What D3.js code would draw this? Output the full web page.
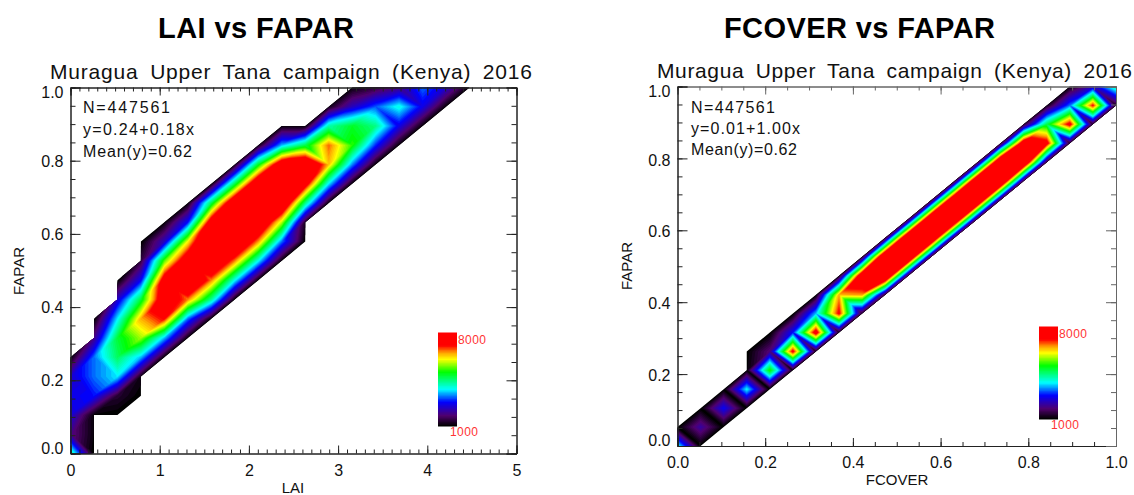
<!DOCTYPE html>
<meta charset="utf-8">
<style>
body { margin: 0; background: white; }
text { font-family: "Liberation Sans", Arial, sans-serif; fill: #111; }
.domain { stroke: #222; }
.tick line { stroke: #222; }
</style>
<body>
<script src="https://d3js.org/d3.v7.min.js"></script>
<script>

// 20 x 20 density grid, one list per column, each list starts at row xxStart[column]
var laiStart = [0, 0, 2, 3, 5, 6, 7, 8, 9, 10, 11, 13, 14, 15, 16, 17, 18, 19];
var laiCounts = [
  [4500, 2000, 2600, 2700, 2500, 1100],
  [1000, 1100, 1100, 2900, 3300, 3300, 2000, 1000],
  [1000, 1400, 3800, 4700, 4900, 3800, 2500, 1000],
  [1000, 1200, 3600, 5800, 6600, 4900, 2800, 1500, 1000],
  [1100, 3600, 7300, 8200, 7900, 5500, 2400, 1100],
  [1100, 3300, 6800, 9000, 8200, 6200, 2900, 1100],
  [1100, 4400, 6800, 8800, 9500, 8000, 4800, 1100],
  [1100, 3900, 6800, 9000, 9500, 8600, 4800, 1200],
  [1100, 3900, 6700, 8800, 9500, 8600, 5000, 1200],
  [1100, 3300, 5900, 8800, 9800, 8300, 3600, 1100],
  [1000, 1300, 4500, 7800, 8800, 4800, 1100],
  [1100, 3800, 6500, 6900, 4300, 1200],
  [1100, 3400, 5300, 5000, 2400, 1100],
  [1100, 3000, 4500, 3200, 1500],
  [1100, 2700, 4000, 2000],
  [1100, 2700, 3300],
  [1100, 2500],
  [1100]
];
var laiEmptyCells = ["1,1"];

var fcoverStart = [0, 0, 1, 2, 3, 4, 5, 6, 7, 8, 9, 10, 11, 12, 13, 14, 15, 16, 17, 18];
var fcoverCounts = [
  [4000, 1000],
  [1000, 2200, 1000],
  [1000, 2800, 1000],
  [1000, 3900, 1100, 1000],
  [1000, 5300, 1900, 1000],
  [1100, 7500, 2900, 1000],
  [1200, 7800, 3600, 1000],
  [1200, 7400, 6600, 1100],
  [1300, 6700, 8500, 1200],
  [1400, 9400, 9400, 1300],
  [1400, 9400, 9400, 1300],
  [1400, 9400, 9400, 1300],
  [1400, 9400, 9400, 1300],
  [1400, 9400, 9400, 1300],
  [1400, 9400, 9400, 1300],
  [1400, 9000, 8300, 1300],
  [1400, 7700, 4800, 1200],
  [1300, 7600, 3300, 1100],
  [1300, 7300, 2400],
  [1300, 4400]
];

var colorCounts = [1000, 1770, 2820, 3800, 5130, 6110, 6600, 7160, 8000];
var colorValues = ["#000000", "#50006e", "#0000ff", "#00ffff", "#00ff00", "#ffff00", "#ffa500", "#ff0000", "#ff0000"];

var subtitle = "Muragua Upper Tana campaign (Kenya) 2016";
var fapar = { major: [0, 0.2, 0.4, 0.6, 0.8, 1], minor: d3.range(0, 1.001, 0.05) };
var laiTicks = { major: [0, 1, 2, 3, 4, 5], minor: d3.range(0, 5.01, 0.1) };
var fcoverTicks = { major: [0, 0.2, 0.4, 0.6, 0.8, 1], minor: d3.range(0, 1.001, 0.05) };

var color = d3.scaleLinear().domain(colorCounts).range(colorValues).clamp(true);
var levels = d3.range(64).map(function(k) { return 1000 + 7000 * k / 63; });

var svg = d3.select("body").append("svg")
    .attr("width", 1134)
    .attr("height", 495);

// keep the part of a triangle that is at or above the level
function clipTriangle(tri, level) {
  var out = [];
  tri.forEach(function(a, n) {
    var b = tri[(n + 1) % 3];
    if (a.v >= level) out.push(a);
    if ((a.v >= level) != (b.v >= level)) {
      var f = (level - a.v) / (b.v - a.v);
      out.push({ i: a.i + f * (b.i - a.i), j: a.j + f * (b.j - a.j), v: level });
    }
  });
  return out;
}

// split the cells into triangles. two peaks on one diagonal stay apart,
// otherwise cut along the diagonal whose ends are closest in value
function gridTriangles(start, counts, empty) {
  function node(i, j) {
    if (i >= counts.length) return null;
    var v = counts[i][j - start[i]];
    return v === undefined ? null : { i: i, j: j, v: v };
  }
  var tris = [];
  for (var i = 0; i < 19; i++) {
    for (var j = 0; j < 19; j++) {
      if (empty.indexOf(i + "," + j) >= 0) continue;
      var a = node(i, j), b = node(i + 1, j), c = node(i, j + 1), d = node(i + 1, j + 1);
      if (a && b && c && d) {
        var saddle = Math.min(a.v, d.v) > Math.max(b.v, c.v);
        if (!saddle && Math.abs(a.v - d.v) < Math.abs(b.v - c.v)) tris.push([a, b, d], [a, c, d]);
        else tris.push([a, b, c], [b, c, d]);
      } else {
        var have = [a, b, d, c].filter(function(n) { return n; });
        if (have.length == 3) tris.push(have);
      }
    }
  }
  return tris;
}

function drawPanel(p) {
  var x = d3.scaleLinear().domain(p.xDomain).range([p.left, p.right]);
  var y = d3.scaleLinear().domain([0, 1]).range([p.bottom, p.top]);
  var xStep = p.xDomain[1] / 19, yStep = 1 / 19;
  var tris = gridTriangles(p.start, p.counts, p.empty);

  var g = svg.append("g");

  // filled contours, painted from the lowest level up
  g.selectAll(".level")
      .data(levels)
    .enter().append("path")
      .attr("class", "level")
      .attr("fill", function(d) { return color(d); })
      .attr("d", function(d, n) {
        var path = d3.path();
        tris.forEach(function(t) {
          var poly = n == 0 ? t : clipTriangle(t, d);
          poly.forEach(function(q, m) {
            var px = x(q.i * xStep), py = y(q.j * yStep);
            if (m == 0) path.moveTo(px, py); else path.lineTo(px, py);
          });
          if (poly.length) path.closePath();
        });
        return path.toString();
      });

  // axes: long and short ticks on all four sides, pointing in
  function ticks(axis, size, values, tr, stroke) {
    g.append("g")
        .attr("transform", tr)
        .call(axis.tickValues(values).tickSize(size).tickFormat(""))
        .selectAll("line,path").style("stroke", stroke);
  }
  ticks(d3.axisBottom(x), -4, p.xTicks.minor, "translate(0," + p.bottom + ")", "#222");
  ticks(d3.axisBottom(x), -8, p.xTicks.major, "translate(0," + p.bottom + ")", "#222");
  ticks(d3.axisTop(x), -4, p.xTicks.minor, "translate(0," + p.top + ")", p.farStroke);
  ticks(d3.axisTop(x), -8, p.xTicks.major, "translate(0," + p.top + ")", p.farStroke);
  ticks(d3.axisLeft(y), -5, fapar.minor, "translate(" + p.left + ",0)", "#222");
  ticks(d3.axisLeft(y), -10, fapar.major, "translate(" + p.left + ",0)", "#222");
  ticks(d3.axisRight(y), -5, fapar.minor, "translate(" + p.right + ",0)", p.farStroke);
  ticks(d3.axisRight(y), -10, fapar.major, "translate(" + p.right + ",0)", p.farStroke);

  // tick labels
  g.append("g")
      .attr("transform", "translate(0," + p.bottom + ")")
      .call(d3.axisBottom(x).tickValues(p.xTicks.major).tickSize(0).tickPadding(p.xPad).tickFormat(p.xFormat))
      .call(function(a) { a.select(".domain").remove(); })
      .selectAll("text").style("font-size", "16px").style("fill", "#111");
  g.append("g")
      .attr("transform", "translate(" + p.left + ",0)")
      .call(d3.axisLeft(y).tickValues(fapar.major).tickSize(0).tickPadding(7).tickFormat(d3.format(".1f")))
      .call(function(a) { a.select(".domain").remove(); })
      .selectAll("text")
      .style("font-size", "16px").style("fill", "#111")
      .attr("transform", function(d) { return "translate(0," + (d == 0 ? -5.5 : d == 1 ? 5 : p.yNudge) + ")"; });

  // titles
  g.append("text").attr("x", p.titleX).attr("y", 38)
      .attr("textLength", p.titleW)
      .style("font-size", "29px").style("font-weight", "bold").style("fill", "#000")
      .text(p.title);
  g.append("text").attr("x", p.subX).attr("y", p.subY)
      .attr("textLength", p.subW).style("font-size", "21px").style("word-spacing", "5px")
      .text(subtitle);

  // statistics
  p.notes.forEach(function(t, n) {
    g.append("text").attr("x", p.noteX).attr("y", p.noteY[n])
        .attr("textLength", p.noteW[n]).style("font-size", "16px")
        .text(t);
  });

  // axis names
  g.append("text")
      .attr("transform", "translate(" + p.yLabelX + "," + p.yLabelY + ") rotate(-90)")
      .attr("text-anchor", "middle").style("font-size", "15px")
      .text("FAPAR");
  g.append("text")
      .attr("x", p.xLabelX).attr("y", p.xLabelY)
      .attr("text-anchor", "middle").style("font-size", "15px")
      .text(p.xLabel);

  // colour bar
  var bar = d3.scaleLinear().domain([1000, 8000]).range([p.barBottom, p.barTop]);
  g.selectAll(".bar")
      .data(levels)
    .enter().append("rect")
      .attr("class", "bar")
      .attr("x", p.barX)
      .attr("width", 19)
      .attr("y", function(d) { return bar(d) - 1.5; })
      .attr("height", 3)
      .attr("fill", function(d) { return color(d); });
  g.append("text").attr("x", p.barX + 20).attr("y", p.barTop + 10)
      .attr("textLength", 28).style("font-size", "12px").style("fill", "#f33").text("8000");
  g.append("text").attr("x", p.barX + 12).attr("y", p.barBottom + 11)
      .attr("textLength", 28).style("font-size", "12px").style("fill", "#f33").text("1000");
}

drawPanel({
  title: "LAI vs FAPAR", titleX: 158, titleW: 196,
  subX: 50, subY: 79, subW: 482,
  start: laiStart, counts: laiCounts, empty: laiEmptyCells,
  xDomain: [0, 5], xTicks: laiTicks, xFormat: d3.format("d"), xPad: 11,
  left: 70.5, right: 516.5, top: 87.5, bottom: 453.5, yNudge: 0.5, farStroke: "#222",
  xLabel: "LAI", xLabelX: 293, xLabelY: 493,
  yLabelX: 24, yLabelY: 271,
  notes: ["N=447561", "y=0.24+0.18x", "Mean(y)=0.62"],
  noteX: 83, noteY: [113, 135, 156.5], noteW: [87, 111, 109],
  barX: 438, barTop: 334, barBottom: 425
});

drawPanel({
  title: "FCOVER vs FAPAR", titleX: 724, titleW: 271,
  subX: 657, subY: 78, subW: 475,
  start: fcoverStart, counts: fcoverCounts, empty: [],
  xDomain: [0, 1], xTicks: fcoverTicks, xFormat: d3.format(".1f"), xPad: 11,
  left: 677.5, right: 1116, top: 86.5, bottom: 446, yNudge: 1.5, farStroke: "#666",
  xLabel: "FCOVER", xLabelX: 897, xLabelY: 485,
  yLabelX: 632, yLabelY: 266,
  notes: ["N=447561", "y=0.01+1.00x", "Mean(y)=0.62"],
  noteX: 691, noteY: [112.5, 134, 155], noteW: [84, 109, 106],
  barX: 1039, barTop: 328, barBottom: 418
});

</script>
</body>
